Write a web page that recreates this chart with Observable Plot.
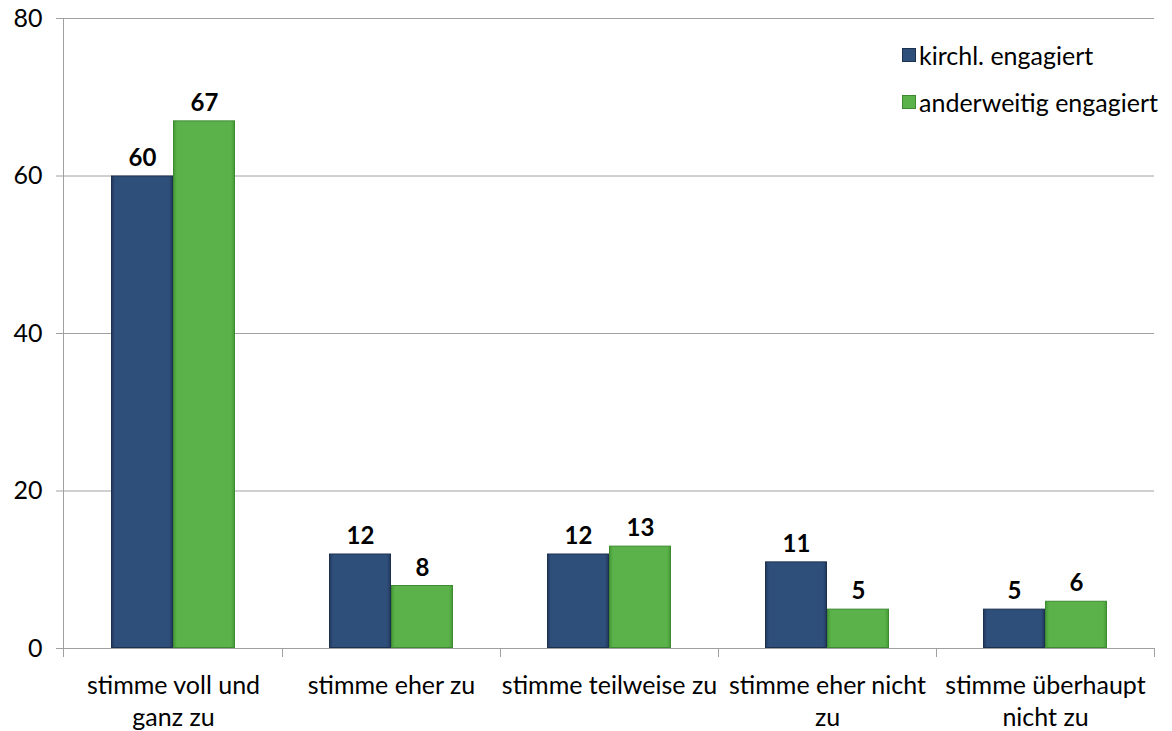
<!DOCTYPE html>
<html><head><meta charset="utf-8">
<script src="https://cdn.jsdelivr.net/npm/d3@7"></script>
<script src="https://cdn.jsdelivr.net/npm/@observablehq/plot@0.6"></script>
<style>
body{margin:0;background:#fff;font-family:Lato,"Open Sans",sans-serif;}
#wrap{position:relative;width:1172px;height:731px;}
#legend{position:absolute;left:902px;top:31px;font-size:25px;color:#000;}
#legend div{display:flex;align-items:center;height:47px;}
#legend span.sw{display:inline-block;width:12px;height:12px;margin-right:3px;}
</style></head><body>
<div id="wrap"><div id="legend"></div></div>
<script>
const categories = ["stimme voll und ganz zu","stimme eher zu","stimme teilweise zu","stimme eher nicht zu","stimme überhaupt nicht zu"];
const categoryLines = [["stimme voll und","ganz zu"],["stimme eher zu"],["stimme teilweise zu"],["stimme eher nicht","zu"],["stimme überhaupt","nicht zu"]];
const series = ["kirchl. engagiert","anderweitig engagiert"];
const kirchl = [60,12,12,11,5];
const anderweitig = [67,8,13,5,6];
const yTicks = [0,20,40,60,80];
const colors = ["#2F4F7B","#5BB24A"];
const strokes = ["#1C3050","#3E8A31"];

const data = [];
categories.forEach((c,i)=>{
  data.push({cat:c, s:series[0], v:kirchl[i]});
  data.push({cat:c, s:series[1], v:anderweitig[i]});
});
const labelOf = new Map(categories.map((c,i)=>[c,categoryLines[i].join("\n")]));

const plot = Plot.plot({
  width:1172, height:731,
  marginLeft:63, marginRight:17, marginTop:18, marginBottom:83,
  style:{fontFamily:"Lato, 'Open Sans', sans-serif", fontSize:"25px", color:"#000", background:"#fff"},
  fx:{domain:categories, padding:0, label:null},
  x:{domain:series, paddingInner:0, paddingOuter:0.74, axis:null},
  y:{domain:[0,80], ticks:yTicks, label:null},
  color:{domain:series, range:colors},
  marks:[
    Plot.ruleY([20,40,60,80],{stroke:"#A0A0A0", strokeWidth:1}),
    Plot.barY(data,{fx:"cat", x:"s", y:"v", fill:d=>d.s===series[0]?"url(#gBlue)":"url(#gGreen)", stroke:d=>d.s===series[0]?strokes[0]:strokes[1], strokeWidth:1, inset:0.5}),
    Plot.text(data,{fx:"cat", x:"s", y:"v", text:d=>String(d.v), lineAnchor:"bottom", dy:-10, fontWeight:"bold", fontSize:24, fill:"#000"}),
    Plot.ruleY([0],{stroke:"#A0A0A0", strokeWidth:1}),
    Plot.axisY({ticks:yTicks, tickSize:8, tickPadding:14, stroke:"#A0A0A0", fontSize:25, tickFormat:d=>String(d)}),
    Plot.axisFx({tickSize:0, tickPadding:22, fontSize:25, lineHeight:1.3, tickFormat:c=>labelOf.get(c), anchor:"bottom"})
  ]
});

const svg = d3.select(plot);
const defs = svg.insert("defs",":first-child");
function grad(id, mid, dark){
  const g = defs.append("linearGradient").attr("id",id).attr("x1",0).attr("x2",1).attr("y1",0).attr("y2",0);
  g.append("stop").attr("offset","0%").attr("stop-color",dark);
  g.append("stop").attr("offset","6%").attr("stop-color",mid);
  g.append("stop").attr("offset","94%").attr("stop-color",mid);
  g.append("stop").attr("offset","100%").attr("stop-color",dark);
}
grad("gBlue",colors[0],"#22395C");
grad("gGreen",colors[1],"#459A36");

const fx = plot.scale("fx");
const y = plot.scale("y");
const y0 = y.apply(0);
const g = svg.append("g").attr("stroke","#A0A0A0").attr("stroke-width",1);
g.append("line").attr("x1",63.5).attr("x2",63.5).attr("y1",y.apply(80)).attr("y2",y0+9);
categories.forEach(c=>{
  const xr = fx.apply(c) + fx.bandwidth;
  g.append("line").attr("x1",Math.round(xr)+0.5).attr("x2",Math.round(xr)+0.5).attr("y1",y0).attr("y2",y0+9);
});

document.getElementById("wrap").prepend(plot);
const leg = d3.select("#legend");
series.forEach((s,i)=>{
  const row = leg.append("div");
  row.append("span").attr("class","sw").style("background",colors[i]).style("border","1px solid "+strokes[i]);
  row.append("span").text(s);
});
</script>
</body></html>
